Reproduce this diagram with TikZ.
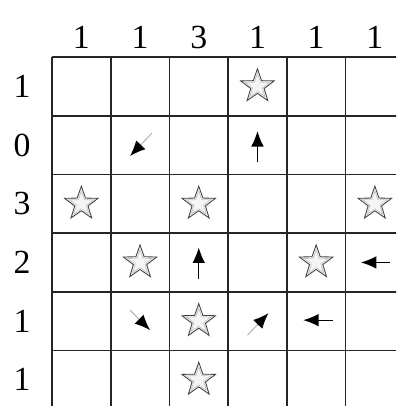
\documentclass[tikz,border=0pt]{standalone}
\usepackage{fontspec}
\setmainfont{Liberation Serif}
\usetikzlibrary{arrows.meta,shapes.geometric}

\begin{document}
\begin{tikzpicture}[
    x=0.025cm, y=-0.025cm,
    rotulo/.style={
        inner sep=0pt,
        font=\fontsize{24}{28}\selectfont
    },
    grade/.style={line width=1.2pt, draw=black!85},
    estrela/.style={
        star,
        star points=5,
        star point ratio=2.5,
        minimum size=0.88cm,
        inner sep=0pt,
        draw=gray!50!black,
        fill=gray!8,
        line width=0.6pt
    },
    miolo/.style={
        star,
        star points=5,
        star point ratio=2.5,
        minimum size=0.64cm,
        inner sep=0pt,
        draw=gray!45,
        line width=0.5pt
    },
    seta/.style={-{Latex[length=11pt,width=9pt]}, line width=0.9pt},
    diag/.style={-{Latex[length=11pt,width=9pt,color=black]}, line width=0.7pt, draw=gray!60}
]

\useasboundingbox (0,0) rectangle (396,406);
\clip (0,0) rectangle (396,406);

% CENTROS DAS CASAS
\foreach \r in {1,...,6}
  \foreach \c in {1,...,6}
    \coordinate (c\r\c) at ({52+58.7*(\c-0.5)},{57+58.7*(\r-0.5)});

% GRADE
\foreach \i in {0,...,6} {
  \draw[grade] ({52+58.7*\i},57) -- ({52+58.7*\i},{57+6*58.7});
  \draw[grade] (52,{57+58.7*\i}) -- ({52+6*58.7},{57+58.7*\i});
}

% CONTAGENS DAS COLUNAS E LINHAS
\foreach \v [count=\c] in {1,1,3,1,1,1}
  \node[rotulo] (col\c) at ({52+58.7*(\c-0.5)},37.5) {\v};
\foreach \v [count=\r] in {1,0,3,2,1,1}
  \node[rotulo] (lin\r) at (22,{57+58.7*(\r-0.5)}) {\v};

% ESTRELAS
\foreach \p in {14,31,33,36,42,45,53,63} {
  \node[estrela] (est\p) at (c\p) {};
  \node[miolo] (mio\p) at (c\p) {};
}

% SETAS
\coordinate (a22) at ([shift={(12,-12)}]c22);
\coordinate (b22) at ([shift={(-10,11)}]c22);
\coordinate (a24) at ([shift={(0,17)}]c24);
\coordinate (b24) at ([shift={(0,-14)}]c24);
\coordinate (a43) at ([shift={(0,17)}]c43);
\coordinate (b43) at ([shift={(0,-15)}]c43);
\coordinate (a46) at ([shift={(15,0)}]c46);
\coordinate (b46) at ([shift={(-14,0)}]c46);
\coordinate (a52) at ([shift={(-10,-11)}]c52);
\coordinate (b52) at ([shift={(10,9)}]c52);
\coordinate (a54) at ([shift={(-10,14)}]c54);
\coordinate (b54) at ([shift={(11,-8)}]c54);
\coordinate (a55) at ([shift={(17,-1)}]c55);
\coordinate (b55) at ([shift={(-13,-1)}]c55);

\draw[diag] (a22) -- (b22);
\draw[seta] (a24) -- (b24);
\draw[seta] (a43) -- (b43);
\draw[seta] (a46) -- (b46);
\draw[diag] (a52) -- (b52);
\draw[diag] (a54) -- (b54);
\draw[seta] (a55) -- (b55);

\end{tikzpicture}
\end{document}
